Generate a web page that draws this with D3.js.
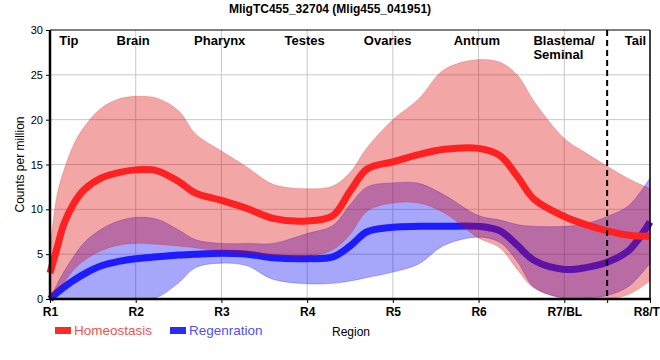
<!DOCTYPE html>
<html>
<head>
<meta charset="utf-8">
<script src="https://cdn.jsdelivr.net/npm/d3@7/dist/d3.min.js"></script>
<style>
  html, body { margin: 0; padding: 0; background: #fff; }
  svg { display: block; font-family: "Liberation Sans", Arial, sans-serif; }
</style>
</head>
<body>
<svg id="chart" width="660" height="360"></svg>
<script>
// ---------- data ----------
const title = "MligTC455_32704 (Mlig455_041951)";
const yLabel = "Counts per million";
const xLabel = "Region";
const tickLabels = ["R1", "R2", "R3", "R4", "R5", "R6", "R7/BL", "R8/TL"];
const yTicks = [0, 5, 10, 15, 20, 25, 30];
const regionNames = ["Tip", "Brain", "Pharynx", "Testes", "Ovaries", "Antrum", "Blastema/|Seminal", "Tail"];
const regionCenters = [0.22, 0.97, 1.98, 2.97, 3.94, 4.98, 5.64, 6.83];
const tailBoundary = 6.5;
const seriesNames = ["Homeostasis", "Regenration"];

// sample positions along the region axis (0 = R1 ... 7 = R8)
const pos = [0, 0.08, 0.16, 0.28, 0.4, 0.6, 0.8, 1.0, 1.25, 1.5, 1.7, 2.0, 2.3, 2.6, 3.0,
             3.3, 3.5, 3.7, 4.0, 4.3, 4.6, 5.0, 5.25, 5.45, 5.65, 6.0, 6.25, 6.5, 6.75, 7.0];

const homeoMean = [2.9, 5.6, 8.3, 10.7, 12.2, 13.5, 14.1, 14.4, 14.3, 13.1, 11.8, 11.0, 10.1, 9.0, 8.7,
                   9.3, 12.0, 14.5, 15.3, 16.1, 16.7, 16.8, 16.0, 13.7, 11.1, 9.2, 8.3, 7.6, 7.1, 7.0];
const homeoUpper = [5.5, 11.5, 14.3, 17.3, 19.2, 21.3, 22.3, 22.6, 22.4, 21.0, 18.4, 16.5, 14.7, 12.8, 12.3,
                    12.6, 14.1, 16.9, 20.0, 22.3, 25.6, 26.7, 26.4, 25.0, 22.0, 17.9, 16.3, 14.8, 13.4, 12.3];
const homeoLower = [0, 1.0, 1.8, 3.3, 4.3, 5.4, 6.0, 6.2, 6.1, 5.9, 5.7, 5.3, 5.1, 4.9, 4.8,
                    5.5, 7.2, 9.8, 10.7, 10.7, 9.6, 6.8, 5.7, 3.3, 1.2, 0.1, 0, 0, 0.5, 2.0];

const regenMean = [0, 0.7, 1.3, 2.1, 2.8, 3.7, 4.2, 4.5, 4.7, 4.9, 5.0, 5.1, 5.0, 4.6, 4.5,
                   4.7, 5.9, 7.5, 8.0, 8.1, 8.1, 8.1, 7.6, 6.0, 4.3, 3.3, 3.5, 4.1, 5.4, 8.6];
const regenUpper = [0, 1.6, 3.0, 4.8, 6.3, 7.8, 8.7, 9.1, 8.9, 7.7, 6.6, 6.2, 6.2, 6.2, 7.3,
                    8.2, 10.5, 12.5, 12.95, 12.9, 11.6, 9.3, 8.8, 8.3, 8.1, 8.1, 8.4, 9.2, 10.4, 13.5];
const regenLower = [0, 0, 0, 0, 0, 0, 0, 0, 0.2, 1.8, 3.5, 4.0, 3.7, 2.2, 1.7,
                    1.75, 2.0, 2.4, 3.0, 3.9, 6.0, 6.9, 6.3, 4.2, 1.3, 0.05, 0.1, 0.4, 1.4, 4.0];

// ---------- chart ----------
const svg = d3.select("#chart");
const W = 660, H = 360;
const m = { left: 50, right: 10, top: 30, bottom: 61 };
const x = d3.scaleLinear().domain([0, 7]).range([m.left, W - m.right]);
const y = d3.scaleLinear().domain([0, 30]).range([H - m.bottom, m.top]);

const colors = {
  homeoBand: "rgb(220,0,0)", homeoLine: "#ff2121",
  regenBand: "rgb(0,0,240)", regenLine: "#1c1cff"
};

// grid
const grid = svg.append("g");
grid.selectAll("line.h").data(yTicks.filter(v => v > 0 && v < 30)).join("line")
  .attr("x1", x(0)).attr("x2", x(7)).attr("y1", d => y(d)).attr("y2", d => y(d))
  .attr("stroke", "#c8c8c8").attr("stroke-width", 1);
grid.selectAll("line.v").data(d3.range(1, 7)).join("line")
  .attr("x1", d => x(d)).attr("x2", d => x(d)).attr("y1", y(0)).attr("y2", y(30))
  .attr("stroke", "#c8c8c8").attr("stroke-width", 1);

const curve = d3.curveCatmullRom.alpha(0.5);
function bandData(lo, hi) { return pos.map((p, i) => ({ p, lo: lo[i], hi: hi[i] })); }
function lineData(v) { return pos.map((p, i) => ({ p, v: v[i] })); }
const area = d3.area().x(d => x(d.p)).y0(d => y(Math.max(0, d.lo))).y1(d => y(d.hi)).curve(curve);
const line = d3.line().x(d => x(d.p)).y(d => y(d.v)).curve(curve);

svg.append("clipPath").attr("id", "clipLow").append("rect")
  .attr("x", 0).attr("y", 0).attr("width", W).attr("height", y(0));

// regeneration band + line
svg.append("path").datum(bandData(regenLower, regenUpper)).attr("d", area)
  .attr("clip-path", "url(#clipLow)")
  .attr("fill", colors.regenBand).attr("fill-opacity", 0.35)
  .attr("stroke", colors.regenBand).attr("stroke-opacity", 0.25).attr("stroke-width", 1);
svg.append("path").datum(lineData(regenMean)).attr("d", line)
  .attr("fill", "none").attr("stroke", colors.regenLine).attr("stroke-width", 7);

// homeostasis band + line
svg.append("path").datum(bandData(homeoLower, homeoUpper)).attr("d", area)
  .attr("clip-path", "url(#clipLow)")
  .attr("fill", colors.homeoBand).attr("fill-opacity", 0.35)
  .attr("stroke", colors.homeoBand).attr("stroke-opacity", 0.2).attr("stroke-width", 1);
svg.append("path").datum(lineData(homeoMean)).attr("d", line)
  .attr("fill", "none").attr("stroke", colors.homeoLine).attr("stroke-width", 7);

// frame
svg.append("line").attr("x1", x(0)).attr("x2", x(7)).attr("y1", y(30)).attr("y2", y(30))
  .attr("stroke", "#000").attr("stroke-width", 1);
svg.append("line").attr("x1", x(7)).attr("x2", x(7)).attr("y1", y(30)).attr("y2", y(0))
  .attr("stroke", "#000").attr("stroke-width", 1.5);

// tail boundary
svg.append("line").attr("x1", x(tailBoundary)).attr("x2", x(tailBoundary))
  .attr("y1", y(30)).attr("y2", y(0))
  .attr("stroke", "#000").attr("stroke-width", 2).attr("stroke-dasharray", "6,4");

// axes
const yAxis = svg.append("g").attr("transform", `translate(${x(0)},0)`)
  .call(d3.axisLeft(y).tickValues(yTicks).tickSize(4).tickPadding(3));
yAxis.select(".domain").attr("stroke-width", 2.5).attr("d", `M0,${y(30)}V${y(0) + 1}`);
yAxis.selectAll("text").attr("font-size", 11).attr("font-family", "Liberation Sans, Arial, sans-serif").attr("fill", "#000");

const xAxis = svg.append("g").attr("transform", `translate(0,${y(0)})`)
  .call(d3.axisBottom(x).tickValues(d3.range(0, 8).concat([tailBoundary])).tickSize(4).tickPadding(4)
    .tickFormat(d => Number.isInteger(d) ? tickLabels[d] : ""));
xAxis.select(".domain").attr("stroke-width", 2.5).attr("d", `M${x(0) - 1},0H${x(7) + 1}`);
xAxis.selectAll("text").attr("font-size", 12).attr("font-weight", "bold")
  .attr("font-family", "Liberation Sans, Arial, sans-serif").attr("fill", "#000");

// region labels
const rl = svg.append("g").attr("font-size", 13).attr("font-weight", "bold").attr("fill", "#000");
regionNames.forEach((name, i) => {
  const parts = name.split("|");
  const t = rl.append("text").attr("x", x(regionCenters[i])).attr("y", 45)
    .attr("text-anchor", parts.length > 1 ? "start" : "middle");
  parts.forEach((p, k) => {
    t.append("tspan").attr("x", x(regionCenters[i])).attr("dy", k === 0 ? 0 : 14).text(p);
  });
});

// title
svg.append("text").attr("x", 330).attr("y", 13).attr("text-anchor", "middle")
  .attr("font-size", 12).attr("font-weight", "bold").text(title);

// y label
svg.append("text").attr("transform", `translate(24,${(y(0) + y(30)) / 2}) rotate(-90)`)
  .attr("text-anchor", "middle").attr("font-size", 12).text(yLabel);

// x label
svg.append("text").attr("x", 332).attr("y", 336).attr("font-size", 12).text(xLabel);

// legend
const legendItems = [
  { name: seriesNames[0], fill: "#ff2b2b", text: "#f25050", x: 55 },
  { name: seriesNames[1], fill: "#2b2bff", text: "#5050f2", x: 170 }
];
const lg = svg.append("g");
legendItems.forEach(d => {
  lg.append("rect").attr("x", d.x).attr("y", 327).attr("width", 16).attr("height", 7).attr("fill", d.fill);
  lg.append("text").attr("x", d.x + 19).attr("y", 335).attr("font-size", 13.5)
    .attr("fill", d.text).text(d.name);
});
</script>
</body>
</html>
